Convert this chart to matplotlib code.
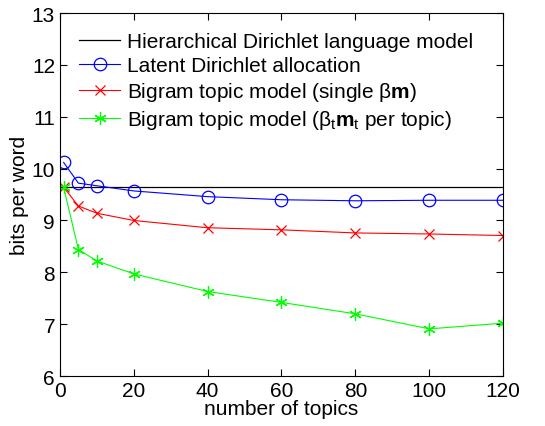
import matplotlib
matplotlib.use('Agg')
import matplotlib.pyplot as plt
import numpy as np

plt.rcParams['font.family'] = ['Liberation Sans', 'DejaVu Sans']
plt.rcParams['mathtext.fontset'] = 'custom'
plt.rcParams['mathtext.rm'] = 'Liberation Sans'
plt.rcParams['mathtext.it'] = 'Liberation Sans'
plt.rcParams['mathtext.bf'] = 'Liberation Sans:bold'

# number of topics
topics = [1, 5, 10, 20, 40, 60, 80, 100, 120]
hdlm = 9.645
lda = [10.12, 9.72, 9.67, 9.57, 9.46, 9.40, 9.38, 9.39, 9.39]
btm_single = [9.64, 9.28, 9.14, 9.00, 8.86, 8.82, 8.76, 8.74, 8.71]
btm_per_topic = [9.64, 8.44, 8.22, 7.97, 7.63, 7.42, 7.20, 6.91, 7.02]

labels = ['Hierarchical Dirichlet language model',
          'Latent Dirichlet allocation',
          r'Bigram topic model (single $\beta\mathbf{m}$)',
          r'Bigram topic model ($\beta_t\mathbf{m}_t$ per topic)']

fig = plt.figure(figsize=(5.45, 4.27), dpi=100)
ax = fig.add_axes([0.110, 0.117, 0.813, 0.850])

ax.plot([0, 120], [hdlm, hdlm], color='black', lw=0.9, label=labels[0])
ax.plot(topics, lda, color='blue', lw=0.8, marker='o', ms=9,
        mfc='none', mec='blue', mew=0.9, label=labels[1])
ax.plot(topics, btm_single, color='red', lw=0.8, marker='x', ms=7,
        mew=0.9, label=labels[2])
ax.plot(topics, btm_per_topic, color='#00ff00', lw=0.8, marker=(6, 2, 0),
        ms=9, mew=0.9, label=labels[3])

ax.set_xlim(0, 120)
ax.set_ylim(6, 13)
ax.set_xticks(np.arange(0, 121, 20))
ax.set_yticks(np.arange(6, 14, 1))
ax.tick_params(direction='in', top=True, right=True, labelsize=15, length=5)
ax.set_xlabel('number of topics', fontsize=15, labelpad=-1)
ax.set_ylabel('bits per word', fontsize=15, labelpad=2)

ax.legend(loc='upper left', frameon=False, fontsize=15, handlelength=2.0,
          handletextpad=0.3, labelspacing=0.25, borderaxespad=0.5)

fig.savefig('out.png', dpi=100)
